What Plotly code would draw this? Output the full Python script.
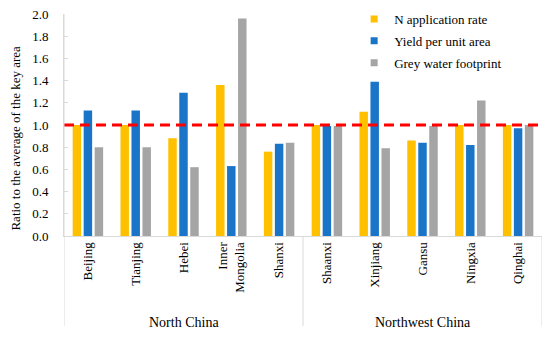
import plotly.graph_objects as go

categories = ["Beijing", "Tianjing", "Hebei", "Inner Mongolia", "Shanxi",
              "Shaanxi", "Xinjiang", "Gansu", "Ningxia", "Qinghai"]
tick_labels = ["Beijing", "Tianjing", "Hebei", "Inner<br>Mongolia", "Shanxi",
               "Shaanxi", "Xinjiang", "Gansu", "Ningxia", "Qinghai"]
regions = ["North China"] * 5 + ["Northwest China"] * 5

n_application = [1.00, 1.00, 0.88, 1.36, 0.76, 1.00, 1.12, 0.86, 1.00, 1.00]
yield_per_area = [1.13, 1.13, 1.29, 0.63, 0.83, 0.99, 1.39, 0.84, 0.82, 0.97]
grey_water = [0.80, 0.80, 0.62, 1.96, 0.84, 0.99, 0.79, 0.99, 1.22, 1.00]

series_names = ["N application rate", "Yield per unit area", "Grey water footprint"]
series_values = [n_application, yield_per_area, grey_water]
colors = ["#FFC000", "#1A74C8", "#A5A5A5"]
reference_level = 1.0
y_title = "Ratio to the average of the key area"

FONT = "Liberation Serif"
def f(size):
    return dict(family=FONT, size=size, color="black")

fig = go.Figure()
for name, vals, col in zip(series_names, series_values, colors):
    fig.add_trace(go.Bar(x=categories, y=vals, name=name, marker_color=col,
                         marker_line_width=0, showlegend=False))
for name, col in zip(series_names, colors):
    fig.add_trace(go.Scatter(x=[None], y=[None], mode="markers", name=name,
                             legendgroup=name,
                             marker=dict(symbol="square", size=7, color=col)))

# page has an 8px body margin, so the figure is drawn 8px in from the window edge
fig.update_layout(
    width=542, height=330,
    margin=dict(l=56, r=8, t=6, b=102, autoexpand=False),
    paper_bgcolor="white", plot_bgcolor="white",
    font=f(13),
    barmode="group", bargap=0.31, bargroupgap=0.23,
    legend=dict(x=0.607, y=1.045, xanchor="left", yanchor="top",
                bgcolor="rgba(0,0,0,0)", font=f(13), itemwidth=30,
                tracegroupgap=2),
)

fig.update_xaxes(
    type="category", tickmode="array", tickvals=categories, ticktext=tick_labels,
    tickangle=-90, showline=True, linecolor="#D9D9D9", linewidth=1,
    ticks="", showgrid=False, tickfont=f(13), range=[-0.5, 9.5], automargin=False,
    ticklabeloverflow="allow",
)
fig.update_yaxes(
    range=[0, 2.0], dtick=0.2, tickformat=".1f", showgrid=False, zeroline=False,
    showline=True, linecolor="#D9D9D9", linewidth=1,
    ticks="inside", ticklen=4, tickcolor="#D9D9D9", ticklabelstandoff=12,
    tickfont=f(13), automargin=False, ticklabeloverflow="allow",
)

# y-axis title (sits a little below the axis centre in the original)
fig.add_annotation(text=y_title, textangle=-90, xref="paper", yref="paper",
                   x=-0.102, y=0.44, xanchor="center", yanchor="middle",
                   showarrow=False, font=f(13))

# reference dashed line at ratio 1
fig.add_shape(type="line", xref="paper", x0=0, x1=1, yref="y",
              y0=reference_level, y1=reference_level,
              line=dict(color="#FF0000", width=3, dash="10px,6px"))

# region dividers and labels
region_names = []
for r in regions:
    if r not in region_names:
        region_names.append(r)
bounds = [-0.5]
for rn in region_names:
    idx = [i for i, r in enumerate(regions) if r == rn]
    bounds.append(max(idx) + 0.5)
    fig.add_annotation(x=sum(idx) / len(idx), xref="x", y=-0.388, yref="paper",
                       text=rn, showarrow=False, font=f(14),
                       yanchor="middle")
for i, b in enumerate(bounds):
    fig.add_shape(type="line", xref="x", x0=b, x1=b, yref="paper",
                  y0=1.0 if i == 0 else 0, y1=-0.405,
                  line=dict(color="#D9D9D9", width=1))

fig.write_html("out.html")
